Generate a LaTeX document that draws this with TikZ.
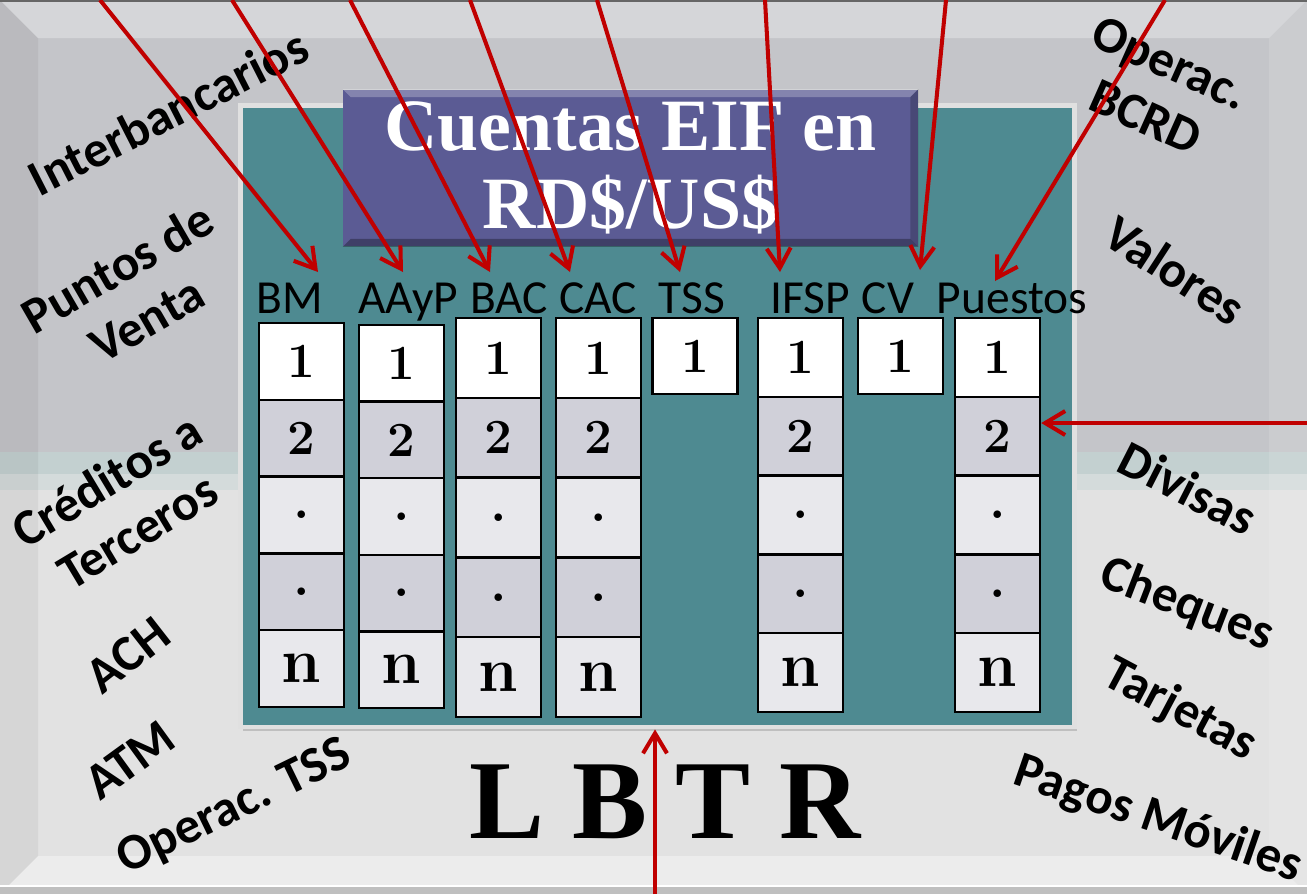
\documentclass[tikz,border=0pt]{standalone}
\usepackage{fontspec}
\newfontfamily\labelfont{Carlito}
\newfontfamily\titlefont{Liberation Serif}
\usetikzlibrary{arrows.meta, shadows}
\definecolor{bgtop}{HTML}{C4C5C9}
\definecolor{bglow}{HTML}{E2E2E2}
\definecolor{bandA}{HTML}{C3D0D0}
\definecolor{bandB}{HTML}{D4DBDB}
\definecolor{eifteal}{HTML}{4E8A91}
\definecolor{eifpurple}{HTML}{5B5B94}
\definecolor{cellgray}{HTML}{D0D0D9}
\definecolor{celllight}{HTML}{E8E8EC}
\definecolor{eifred}{HTML}{C00000}
\tikzset{
  cell/.style={draw=black, line width=1.4pt, minimum width=1.7cm, inner sep=0pt},
  colname/.style={anchor=base, inner sep=0pt, font=\labelfont\fontsize{27}{32}\selectfont},
  side/.style={align=center, inner sep=0pt, font=\labelfont\bfseries\fontsize{29}{34}\selectfont},
  feed/.style={draw=eifred, line width=2.3pt, arrows={-Straight Barb[length=0.4cm, width=0.48cm]}},
}
\begin{document}
\begin{tikzpicture}[x=0.02cm, y=-0.02cm]
\useasboundingbox (0,0) rectangle (1307,894);
\fill[bgtop] (0,0) rectangle (1307,894);
\fill[bglow] (0,452) rectangle (1307,894);
\fill[bandA] (0,452) rectangle (1307,474);
\fill[bandB] (0,474) rectangle (1307,490);
\fill[white, opacity=.3] (0,0) -- (1307,0) -- (1269,38) -- (38,38) -- cycle;
\fill[black, opacity=.05] (0,0) -- (38,38) -- (38,856) -- (0,894) -- cycle;
\fill[white, opacity=.12] (1307,0) -- (1269,38) -- (1269,856) -- (1307,894) -- cycle;
\fill[white, opacity=.35] (0,894) -- (38,856) -- (1269,856) -- (1307,894) -- cycle;
\fill[black!25] (0,887) rectangle (1307,894);
\draw[white, line width=1.2pt] (0,886) -- (1307,886);
\draw[black!60, line width=1.5pt] (0,1) -- (1307,1);

\node[draw=black!12, line width=2.8pt, fill=eifteal, minimum width=16.7cm, minimum height=12.44cm,
      drop shadow={shadow xshift=0.05cm, shadow yshift=-0.08cm, opacity=.35}] (panel) at (657.5,416) {};

\node[fill=eifpurple, minimum width=11.5cm, minimum height=3.14cm, align=center, text=white,
      font=\titlefont\bfseries\fontsize{42}{44}\selectfont] (title) at (630.5,168) {Cuentas EIF en\\RD\$/US\$};
\fill[white, opacity=.25] (title.north west) -- (title.north east) -- ([shift={(-8,8)}]title.north east) -- ([shift={(8,8)}]title.north west) -- cycle;
\fill[black, opacity=.3] (title.south west) -- (title.south east) -- ([shift={(-8,-8)}]title.south east) -- ([shift={(8,-8)}]title.south west) -- cycle;
\fill[black, opacity=.2] (title.north east) -- (title.south east) -- ([shift={(-8,-8)}]title.south east) -- ([shift={(-8,8)}]title.north east) -- cycle;

\node[colname] (lblBM) at (290,313) {BM};
\node[colname] (lblAA) at (408,313) {AAyP};
\node[colname] (lblBAC) at (509,313) {BAC};
\node[colname] (lblCAC) at (598,313) {CAC};
\node[colname] (lblTSS) at (692,313) {TSS};
\node[colname] (lblIF) at (810,313) {IFSP};
\node[colname] (lblCV) at (888,313) {CV};
\node[colname] (lblPU) at (1012,313) {Puestos};

\foreach \nm/\xl/\yt/\h in {BM/259/323/76.8, AA/359/325/76.6, BAC/456/318/79.8, CAC/556/318/79.8, IF/758/318/78.8, PU/955/318/78.8}
  \foreach \r/\c/\t/\fs in {1/white/1/28, 2/cellgray/2/28, 3/celllight/./30, 4/cellgray/./30, 5/celllight/n/36}
    \node[cell, fill=\c, minimum height=\h*0.02cm, font=\bfseries\fontsize{\fs}{\fs}\selectfont]
      (\nm-\r) at (\xl+42.5, {\yt+(\r-0.5)*\h}) {\t};
\node[cell, fill=white, minimum height=1.52cm, font=\bfseries\fontsize{28}{28}\selectfont] (TSS-1) at (695,356) {1};
\node[cell, fill=white, minimum height=1.52cm, font=\bfseries\fontsize{28}{28}\selectfont] (CV-1) at (900.5,356) {1};

\node[side, rotate=27] (interb) at (168,112) {Interbancarios};
\node[side, rotate=30] (puntos) at (132,293) {Puntos de\\Venta};
\node[side, rotate=31] (creditos) at (122,505) {Créditos a\\Terceros};
\node[side, rotate=38] (ach) at (128,655) {ACH};
\node[side, rotate=36] (atm) at (130,760) {ATM};
\node[side, rotate=26] (optss) at (235,808) {Operac. TSS};
\node[side, rotate=-24] (opbcrd) at (1158,90) {Operac.\\BCRD};
\node[side, rotate=-33] (valores) at (1175,270) {Valores};
\node[side, rotate=-27] (divisas) at (1188,488) {Divisas};
\node[side, rotate=-21] (cheques) at (1187,605) {Cheques};
\node[side, rotate=-28] (tarjetas) at (1180,710) {Tarjetas};
\node[side, rotate=-19] (pagos) at (1158,820) {Pagos Móviles};

\node[anchor=base, inner sep=0pt, font=\titlefont\bfseries\fontsize{64}{64}\selectfont] (lbtr) at (665,838) {L B T R};

\coordinate (sBM) at (100,0);   \coordinate (tBM) at (318,272);
\coordinate (sAA) at (232,0);   \coordinate (tAA) at (403,272);
\coordinate (sBAC) at (350,0);  \coordinate (tBAC) at (490,272);
\coordinate (sCAC) at (470,0);  \coordinate (tCAC) at (570,272);
\coordinate (sTSS) at (597,0);  \coordinate (tTSS) at (680,272);
\coordinate (sIF) at (765,0);   \coordinate (tIF) at (780,272);
\coordinate (sCV) at (946,0);   \coordinate (tCV) at (920,270);
\coordinate (sPU) at (1165,0);  \coordinate (tPU) at (995,281);
\coordinate (sDiv) at (1307,423);
\coordinate (sLBTR) at (655,894);

\draw[feed] (sBM) -- (tBM);
\draw[feed] (sAA) -- (tAA);
\draw[feed] (sBAC) -- (tBAC);
\draw[feed] (sCAC) -- (tCAC);
\draw[feed] (sTSS) -- (tTSS);
\draw[feed] (sIF) -- (tIF);
\draw[feed] (sCV) -- (tCV);
\draw[feed] (sPU) -- (tPU);
\draw[feed] (sDiv) -- (sDiv -| PU-2.east);
\draw[feed] (sLBTR) -- (sLBTR |- panel.south);
\end{tikzpicture}
\end{document}
